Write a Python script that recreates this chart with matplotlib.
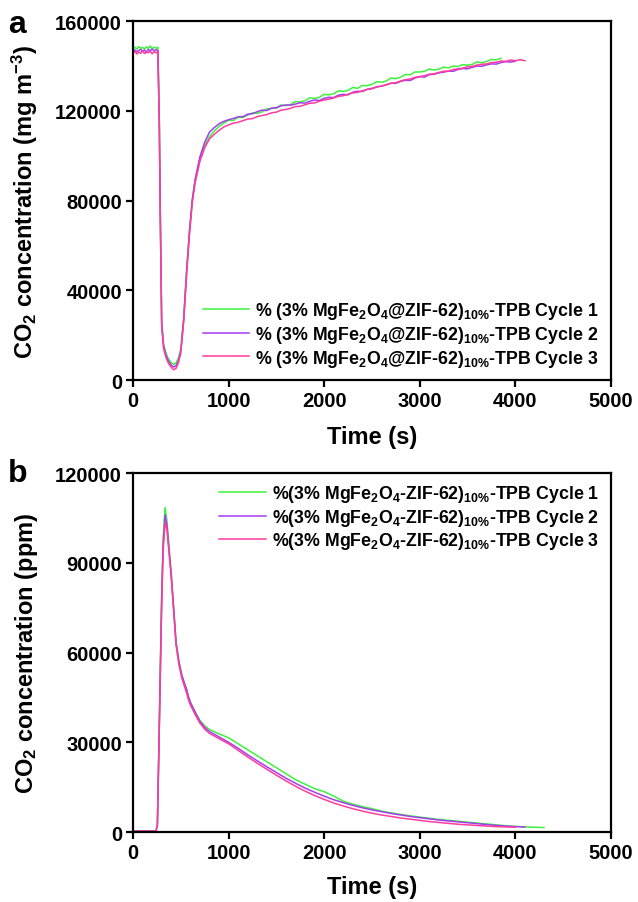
import numpy as np
import matplotlib
matplotlib.use('Agg')
import matplotlib.pyplot as plt

plt.rcParams['font.family'] = ['Liberation Sans', 'DejaVu Sans']
plt.rcParams['font.weight'] = 'bold'
plt.rcParams['axes.labelweight'] = 'bold'
plt.rcParams['mathtext.fontset'] = 'custom'
plt.rcParams['mathtext.rm'] = 'Liberation Sans:bold'
plt.rcParams['mathtext.bf'] = 'Liberation Sans:bold'
plt.rcParams['mathtext.default'] = 'bf'

# ---------------- panel a data ----------------
t_a = (list(range(0, 261, 20))
       + [275, 285, 300, 320, 345, 370, 400, 425, 450, 475, 500, 530, 560, 590,
          620, 650, 700, 750, 800, 850, 900, 950]
       + list(range(1000, 4101, 50)))

a_head1 = [147800, 148300, 147500, 148600, 147900, 148200, 147400, 148500, 147800, 148900, 147600, 148300, 147900, 148400]
a_head2 = [146500, 147100, 146300, 146900, 147400, 146600, 147000, 146200, 147300, 146800, 147500, 146700, 147200, 146900]
a_head3 = [145800, 146400, 145300, 146200, 145600, 146800, 145500, 146100, 145900, 146600, 145400, 146300, 145800, 146500]

a_dip1 = [116000, 76000, 26000, 16000, 12000, 9500, 7800, 7000, 7600, 9800, 14000, 28000, 48500, 66000,
          80000, 89000, 98500, 104500, 108500, 111000, 113000, 114500]
a_dip2 = [115000, 75000, 25000, 15000, 11000, 8500, 6700, 5800, 6400, 8700, 13000, 27000, 48000, 66000,
          80500, 89500, 99500, 106000, 110500, 112500, 114200, 115300]
a_dip3 = [114000, 74000, 24000, 14000, 10000, 7500, 5700, 4600, 5200, 7700, 12000, 26000, 46500, 64500,
          79000, 88000, 97500, 103500, 107500, 109500, 111300, 112800]

a_rec1 = [115800, 115700, 117100, 117000, 118100, 119100, 118800, 119500, 120900, 121000,
          121200, 122600, 122300, 122800, 124100, 124000, 124500, 125800, 125500, 126000,
          127300, 127100, 127600, 128900, 128600, 129100, 130400, 130000, 131300, 131200,
          131800, 133000, 132700, 133300, 134600, 134300, 135000, 136200, 136000, 137300,
          137300, 137600, 138600, 138200, 138500, 139500, 139100, 139900, 139700, 140600,
          140300, 140700, 141800, 141400, 142000, 142900, 142700, 143400]
a_rec2 = [116000, 116600, 117300, 117400, 118500, 118700, 119600, 120300, 120100, 121200,
          121400, 122200, 122600, 122500, 123000, 123600, 123400, 124300, 124800, 124600,
          125600, 126000, 125900, 127000, 127300, 127100, 128300, 128700, 128600, 129600,
          130000, 130700, 131000, 131600, 132300, 132200, 133100, 133600, 133500, 134600,
          135200, 135000, 136100, 136300, 136900, 137200, 137700, 137600, 138400, 138800,
          138700, 139400, 139900, 139800, 140500, 140900, 140800, 141500, 141900, 141700, 142100]
a_rec3 = [113700, 114500, 114900, 115600, 116300, 116500, 117400, 117900, 118300, 119100,
          119400, 120300, 120600, 121100, 121900, 122000, 122700, 123400, 123500, 124300,
          124800, 125200, 125700, 126500, 126700, 127400, 128000, 128200, 128900, 129500,
          129800, 130600, 131000, 131600, 132300, 132500, 133300, 133900, 134100, 134900,
          135300, 135600, 136300, 136500, 137100, 137600, 137700, 138400, 138700, 139000,
          139600, 139800, 140400, 140700, 140900, 141500, 141600, 142200, 142000, 142600,
          142300, 142800, 142300]

# ---------------- panel b data ----------------
t_b = (list(range(0, 241, 20))
       + [255, 270, 285, 300, 315, 335, 355, 375, 400, 425, 450, 480, 510, 540, 560, 580,
          600, 650, 700, 750, 800, 900]
       + list(range(1000, 4301, 100)))

b_head = [300, 250, 350, 300, 280, 320, 300, 260, 340, 300, 310, 290, 300]

b_peak1 = [2500, 28000, 55000, 80000, 98000, 108500, 104000, 96000, 86500, 75000, 63500, 57000,
           52500, 49500, 47500, 45000, 43300, 40200, 37300, 35500, 34300, 32800]
b_peak2 = [2400, 27000, 53000, 78000, 96000, 106000, 102500, 95000, 86000, 75000, 63500, 57000,
           52500, 49500, 47800, 45300, 43400, 40000, 37000, 35000, 33600, 31800]
b_peak3 = [2300, 26000, 51000, 76000, 94000, 103600, 101000, 94000, 85000, 74000, 62500, 56000,
           51500, 48500, 46500, 44200, 42500, 39300, 36400, 34400, 33000, 31200]

b_tail1 = [31500, 29500, 27500, 25500, 23500, 21500, 19500, 17500, 16000, 14500, 13500, 12000,
           10300, 9300, 8500, 7800, 7000, 6400, 5900, 5400, 5000, 4600, 4200, 3900, 3600, 3300,
           3000, 2700, 2400, 2100, 1900, 1700, 1600, 1500]
b_tail2 = [30000, 28000, 25800, 23800, 21800, 19900, 18000, 16300, 14700, 13300, 12000, 10800,
           9800, 8900, 8100, 7400, 6800, 6200, 5700, 5200, 4800, 4400, 4000, 3700, 3400, 3100,
           2800, 2500, 2200, 2000, 1800, 1700]
b_tail3 = [29500, 27300, 25100, 23000, 21000, 19000, 17100, 15300, 13700, 12200, 10900, 9700,
           8700, 7800, 7000, 6300, 5700, 5200, 4700, 4300, 3900, 3500, 3200, 2900, 2600, 2400,
           2200, 2000, 1800, 1700, 1600]

colors = ['#3cf23c', '#a43cf0', '#ff3c9c']
labels_a = [r'% (3% MgFe$_2$O$_4$@ZIF-62)$_{10\%}$-TPB Cycle ' + str(i) for i in (1, 2, 3)]
labels_b = [r'%(3% MgFe$_2$O$_4$-ZIF-62)$_{10\%}$-TPB Cycle ' + str(i) for i in (1, 2, 3)]

series_a = [a_head1 + a_dip1 + a_rec1, a_head2 + a_dip2 + a_rec2, a_head3 + a_dip3 + a_rec3]
series_b = [b_head + b_peak1 + b_tail1, b_head + b_peak2 + b_tail2, b_head + b_peak3 + b_tail3]

fig = plt.figure(figsize=(6.38, 9.03), dpi=100)
ax1 = fig.add_axes([0.2085, 0.578, 0.749, 0.3976])
ax2 = fig.add_axes([0.2085, 0.0775, 0.749, 0.3975])

for y, c, lab in zip(series_a, colors, labels_a):
    ax1.plot(t_a[:len(y)], y, color=c, lw=1.1, label=lab)
for y, c, lab in zip(series_b, colors, labels_b):
    ax2.plot(t_b[:len(y)], y, color=c, lw=1.1, label=lab)

ax1.set_ylim(0, 160000)
ax1.set_yticks([0, 40000, 80000, 120000, 160000])
ax2.set_ylim(0, 120000)
ax2.set_yticks([0, 30000, 60000, 90000, 120000])

for ax in (ax1, ax2):
    ax.set_xlim(0, 5000)
    ax.set_xticks([0, 1000, 2000, 3000, 4000, 5000])
    for s in ax.spines.values():
        s.set_linewidth(1.6)
    ax.tick_params(direction='out', length=5, width=1.6, labelsize=14.5, pad=3)
    for lbl in ax.get_xticklabels() + ax.get_yticklabels():
        lbl.set_fontweight('bold')

ax1.set_xlabel('Time (s)', fontsize=17, fontweight='bold', labelpad=11)
ax2.set_xlabel('Time (s)', fontsize=17, fontweight='bold', labelpad=9)
ax1.set_ylabel(r'CO$_2$ concentration (mg m$^{-3}$)', fontsize=17, fontweight='bold', labelpad=11)
ax2.set_ylabel(r'CO$_2$ concentration (ppm)', fontsize=17, fontweight='bold', labelpad=11)

ax1.legend(loc='lower right', bbox_to_anchor=(0.99, 0.012), frameon=False,
           handlelength=2.6, handletextpad=0.35, labelspacing=0.15, borderaxespad=0,
           prop={'weight': 'bold', 'size': 12.8})
ax2.legend(loc='upper right', bbox_to_anchor=(0.99, 0.992), frameon=False,
           handlelength=2.6, handletextpad=0.35, labelspacing=0.15, borderaxespad=0,
           prop={'weight': 'bold', 'size': 12.8})

fig.text(0.012, 0.972, 'a', fontsize=23, fontweight='bold', va='center')
fig.text(0.012, 0.475, 'b', fontsize=23, fontweight='bold', va='center')

fig.savefig('out.png', dpi=100)
